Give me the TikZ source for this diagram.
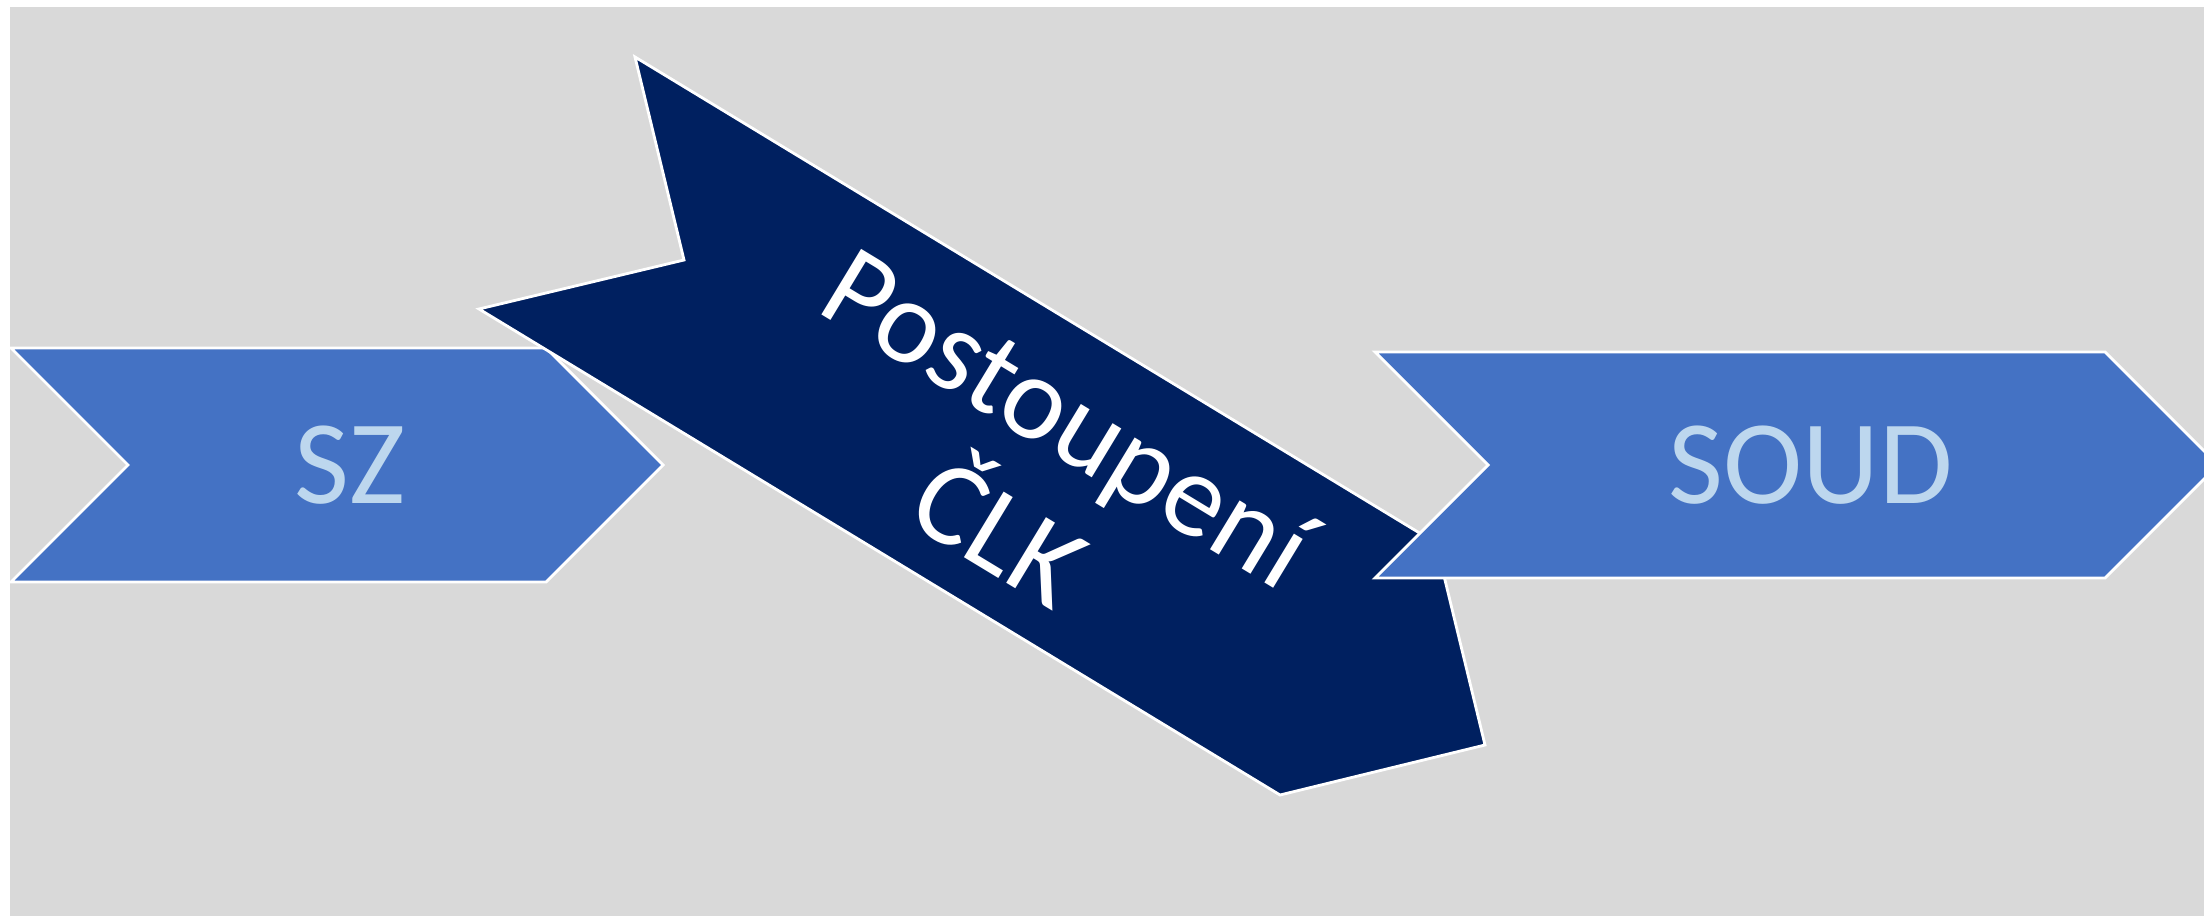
\documentclass[tikz,border=0pt]{standalone}
\usepackage{fontspec}
\setmainfont{Carlito}
\usepackage{xcolor}
\usepackage{tikz}
\definecolor{slidegray}{RGB}{217, 217, 217}
\definecolor{stageblue}{RGB}{68, 114, 196}
\definecolor{navyband}{RGB}{0, 32, 96}
\definecolor{lightlabel}{RGB}{189, 215, 238}

\begin{document}
\begin{tikzpicture}[
    x=0.01cm, y=-0.01cm,
    stage/.style={fill=stageblue, draw=white, line width=0.8pt, line join=miter},
    band/.style={fill=navyband, draw=white, line width=0.8pt, line join=miter},
    stagelabel/.style={inner sep=0pt, text=lightlabel, font=\fontsize{34}{40}\selectfont},
    bandlabel/.style={inner sep=0pt, text=white, align=center, font=\fontsize{34}{38}\selectfont}
]

\useasboundingbox (0,0) rectangle (2204,916);
\clip (0,0) rectangle (2204,916);
\fill[slidegray] (10,7) rectangle (2204,916);

% SZ chevron
\draw[stage] (11,348) -- (546,348) -- (663,465) -- (546,582) -- (11,582) -- (128,465) -- cycle;
\node[stagelabel] (sz) at (350,465) {SZ};

% tilted band
\draw[band] (635,57) -- (1436,543) -- (1485,745) -- (1280,795) -- (479,309) -- (684,260) -- cycle;
\node[bandlabel, rotate=-31.2] (transfer) at (1034,474) {Postoupení\\ČLK};

% SOUD chevron
\draw[stage] (1375,352) -- (2105,352) -- (2218,465) -- (2105,578) -- (1375,578) -- (1488,465) -- cycle;
\node[stagelabel] (soud) at (1811,465) {SOUD};

\end{tikzpicture}
\end{document}
